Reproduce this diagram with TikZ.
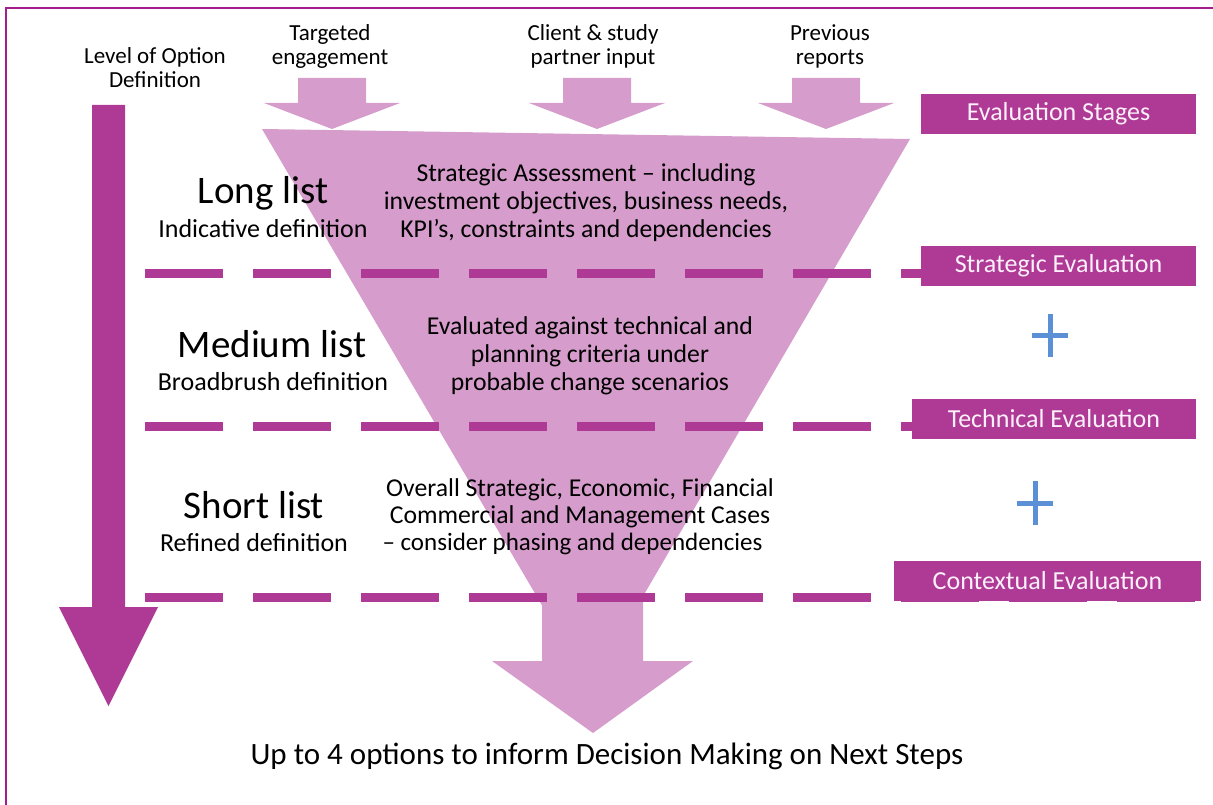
\documentclass[tikz,border=0pt]{standalone}
\usepackage{fontspec}
\setmainfont{Carlito}
\definecolor{framemag}{RGB}{163,30,140}
\definecolor{magdark}{RGB}{175,58,150}
\definecolor{pinklight}{RGB}{214,156,203}
\definecolor{plusblue}{RGB}{91,143,214}
\definecolor{boxtext}{RGB}{252,240,250}
\tikzset{
  lbl/.style={inner sep=0pt, align=center, text=black},
  stagebox/.style={fill=magdark, text=boxtext, inner sep=0pt,
    minimum height=40pt, font=\fontsize{26}{30}\selectfont},
  lightshape/.style={fill=pinklight, draw=none},
  darkshape/.style={fill=magdark, draw=none},
  divider/.style={draw=magdark, line width=9.7pt, dash pattern=on 78pt off 30pt},
  plusmark/.style={draw=plusblue, line width=5pt},
  framerule/.style={draw=framemag, line width=2pt},
  toplabel/.style={lbl, font=\fontsize{23}{24}\selectfont},
  listname/.style={lbl, anchor=base, font=\fontsize{39}{44}\selectfont},
  listdef/.style={lbl, anchor=base, font=\fontsize{26}{30}\selectfont},
  desc/.style={lbl, font=\fontsize{25.7}{28}\selectfont},
}
\begin{document}
\begin{tikzpicture}[x=1pt,y=-1pt]
\useasboundingbox (0,0) rectangle (1213,805);
% outer frame
\draw[framerule] (6,805) -- (6,8) -- (1213,8);

% level-of-definition arrow
\fill[darkshape] (92,105) -- (125,105) -- (125,607) -- (158,607) -- (108.5,706)
  -- (59,607) -- (92,607) -- cycle;

% funnel and outlet arrow
\fill[lightshape] (262,129) -- (910,139) -- (590,687) -- cycle;
\fill[lightshape] (542,560) -- (643,560) -- (643,661) -- (693,661) -- (593,733)
  -- (492,661) -- (542,661) -- cycle;

% input arrows
\foreach \cx in {332,597,826}{
  \fill[lightshape] (\cx-34,78) -- (\cx+34,78) -- (\cx+34,103) -- (\cx+68,103)
    -- (\cx,129) -- (\cx-68,103) -- (\cx-34,103) -- cycle;
}

% stage dividers
\draw[divider] (145,273.5) -- (1195,273.5);
\draw[divider] (145,426.5) -- (1195,426.5);
\draw[divider] (145,597.5) -- (1195,597.5);

% evaluation stage boxes
\node[stagebox, minimum width=275pt] (stages) at (1058.5,114) {Evaluation Stages};
\node[stagebox, minimum width=275pt] (strategic) at (1058.5,266) {Strategic Evaluation};
\node[stagebox, minimum width=284pt] (technical) at (1054,419) {Technical Evaluation};
\node[stagebox, minimum width=307pt] (contextual) at (1047.5,581) {Contextual Evaluation};

% plus signs
\draw[plusmark] (1032,335.5) -- (1068,335.5) (1050,314) -- (1050,357);
\draw[plusmark] (1017,503) -- (1053,503) (1035,481) -- (1035,525);

% headings
\node[toplabel] (levelhead) at (155,68) {Level of Option\\Definition};
\node[toplabel] (engage) at (330,46) {Targeted\\engagement};
\node[toplabel] (client) at (593,46) {Client \& study\\partner input};
\node[toplabel] (previous) at (830,46) {Previous\\reports};

% list levels
\node[listname] (longlist) at (263,204) {Long list};
\node[listdef] (longdef) at (263,237) {Indicative definition};
\node[listname] (medlist) at (272,357) {Medium list};
\node[listdef] (meddef) at (273,390) {Broadbrush definition};
\node[listname] (shortlist) at (254,518) {Short list};
\node[listdef] (shortdef) at (254,551) {Refined definition};

% funnel descriptions
\node[desc] (stratdesc) at (586,203)
  {Strategic Assessment -- including\\investment objectives, business needs,\\KPI's, constraints and dependencies};
\node[desc] (techdesc) at (590,356)
  {Evaluated against technical and\\planning criteria under\\probable change scenarios};
\node[desc, font=\fontsize{25.7}{27}\selectfont] (overdesc) at (580,517)
  {Overall Strategic, Economic, Financial\\Commercial and Management Cases\\{\fontsize{25}{27}\selectfont -- consider phasing and dependencies}\hspace*{15pt}};

% outcome
\node[lbl, anchor=base, font=\fontsize{31}{36}\selectfont] (outcome) at (607,764)
  {Up to 4 options to inform Decision Making on Next Steps};
\end{tikzpicture}
\end{document}
